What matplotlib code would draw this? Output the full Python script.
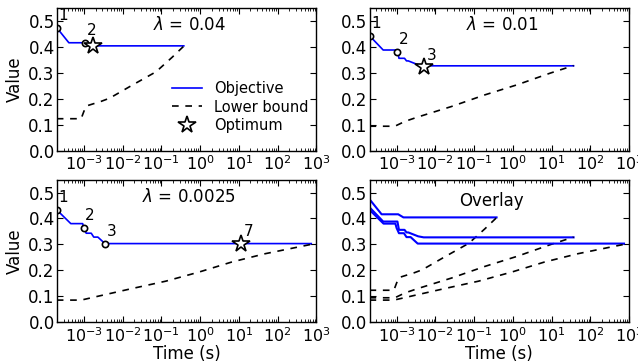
import matplotlib
matplotlib.use("Agg")
import matplotlib.pyplot as plt
from matplotlib.ticker import LogLocator

# ---------------- data ----------------
# lambda = 0.04
obj_t_a = [2e-4, 4.1e-4, 1.1e-3, 1.5e-3, 0.38]
obj_v_a = [0.474, 0.416, 0.416, 0.404, 0.404]
lb_t_a = [2e-4, 8.5e-4, 1.0e-3, 1.15e-3, 2.8e-3, 4.6e-3, 0.018, 0.073, 0.19, 0.38]
lb_v_a = [0.123, 0.123, 0.151, 0.172, 0.19, 0.202, 0.253, 0.304, 0.36, 0.403]
pts_t_a = [2e-4, 1.1e-3]
pts_v_a = [0.474, 0.416]
pts_lab_a = ["1", "2"]
opt_t_a, opt_v_a, opt_lab_a = 1.7e-3, 0.404, ""

# lambda = 0.01
obj_t_b = [2e-4, 4.5e-4, 1.05e-3, 1.15e-3, 1.6e-3, 1.8e-3, 2.0e-3, 3.6e-3, 5.0e-3, 37]
obj_v_b = [0.443, 0.388, 0.388, 0.356, 0.356, 0.346, 0.346, 0.331, 0.327, 0.327]
lb_t_b = [2e-4, 9e-4, 1.66e-3, 3.6e-3, 0.026, 0.19, 1.3, 9.3, 37]
lb_v_b = [0.094, 0.094, 0.113, 0.13, 0.17, 0.215, 0.254, 0.299, 0.328]
pts_t_b = [2e-4, 1.05e-3]
pts_v_b = [0.443, 0.38]
pts_lab_b = ["1", "2"]
opt_t_b, opt_v_b, opt_lab_b = 5.2e-3, 0.322, "3"

# lambda = 0.0025
obj_t_c = [2e-4, 4.6e-4, 9.3e-4, 1.0e-3, 1.15e-3, 1.55e-3, 1.8e-3, 2.3e-3, 3.5e-3, 740]
obj_v_c = [0.433, 0.38, 0.38, 0.363, 0.343, 0.343, 0.328, 0.328, 0.303, 0.303]
lb_t_c = [2e-4, 8.5e-4, 2.5e-3, 0.018, 0.13, 0.93, 6.6, 48, 740]
lb_v_c = [0.085, 0.085, 0.101, 0.13, 0.158, 0.193, 0.232, 0.264, 0.30]
pts_t_c = [2e-4, 1.0e-3, 3.5e-3]
pts_v_c = [0.433, 0.363, 0.303]
pts_lab_c = ["1", "2", "3"]
opt_t_c, opt_v_c, opt_lab_c = 11.5, 0.303, "7"

titles = [r"$\lambda$ = 0.04", r"$\lambda$ = 0.01", r"$\lambda$ = 0.0025", "Overlay"]
yticks = [0.0, 0.1, 0.2, 0.3, 0.4, 0.5]
xticks = [1e-3, 1e-2, 1e-1, 1e0, 1e1, 1e2, 1e3]

# ---------------- style ----------------
plt.rcParams.update({
    "font.family": "DejaVu Sans",
    "font.size": 12,
    "mathtext.fontset": "dejavusans",
    "xtick.direction": "in",
    "ytick.direction": "in",
    "xtick.top": True,
    "ytick.right": True,
    "xtick.major.size": 4,
    "ytick.major.size": 4,
    "xtick.minor.size": 2,
    "xtick.major.pad": 3,
    "ytick.major.pad": 1.5,
    "xtick.labelsize": 11.5,
    "ytick.labelsize": 12,
    "axes.linewidth": 1.0,
})

fig, axes = plt.subplots(2, 2, figsize=(6.38, 3.64), dpi=100)
fig.subplots_adjust(left=0.089, right=0.986, top=0.978, bottom=0.115,
                    wspace=0.205, hspace=0.203)

blue = "#0000ff"
datasets = [
    (obj_t_a, obj_v_a, lb_t_a, lb_v_a, pts_t_a, pts_v_a, pts_lab_a, opt_t_a, opt_v_a, opt_lab_a),
    (obj_t_b, obj_v_b, lb_t_b, lb_v_b, pts_t_b, pts_v_b, pts_lab_b, opt_t_b, opt_v_b, opt_lab_b),
    (obj_t_c, obj_v_c, lb_t_c, lb_v_c, pts_t_c, pts_v_c, pts_lab_c, opt_t_c, opt_v_c, opt_lab_c),
]

def setup(ax):
    ax.set_xscale("log")
    ax.set_xlim(2e-4, 1e3)
    ax.set_ylim(0, 0.55)
    ax.set_yticks(yticks)
    ax.set_xticks(xticks)
    ax.xaxis.set_minor_locator(LogLocator(base=10, subs=range(2, 10), numticks=20))

for i, ax in enumerate(axes.flat[:3]):
    ot, ov, lt, lv, pt, pv, pl, st, sv, sl = datasets[i]
    ax.plot(ot, ov, color=blue, lw=1.2, label="Objective")
    ax.plot(lt, lv, color="black", ls="--", lw=1.2, dashes=(4, 4), label="Lower bound")
    ax.plot(pt, pv, ls="none", marker="o", ms=4.5, mfc="white", mec="black", mew=1.2)
    for x, y, s in zip(pt, pv, pl):
        ax.annotate(s, (x, y), xytext=(1, 3.5), textcoords="offset points",
                    ha="left", va="bottom", fontsize=11)
    ax.plot([st], [sv], ls="none", marker="*", ms=13, mfc="white", mec="black",
            mew=1.2, label="Optimum")
    if sl:
        ax.annotate(sl, (st, sv), xytext=(2, 3), textcoords="offset points",
                    ha="left", va="bottom", fontsize=11)
    setup(ax)
    ax.text(0.51, 0.88, titles[i], transform=ax.transAxes, ha="center", va="center",
            fontsize=12)

axes[0, 0].legend(loc="lower right", bbox_to_anchor=(1.02, 0.03), frameon=False,
                  numpoints=1, fontsize=10.5, handlelength=2.1, handletextpad=0.8,
                  labelspacing=0.25)

ax = axes[1, 1]
for ds in datasets:
    ot, ov, lt, lv = ds[0], ds[1], ds[2], ds[3]
    ax.plot(ot, ov, color=blue, lw=1.5)
    ax.plot(lt, lv, color="black", ls="--", lw=1.2, dashes=(4, 4))
setup(ax)
ax.text(0.47, 0.85, titles[3], transform=ax.transAxes, ha="center", va="center",
        fontsize=12)

axes[0, 0].set_ylabel("Value", labelpad=3)
axes[1, 0].set_ylabel("Value", labelpad=3)
axes[1, 0].set_xlabel("Time (s)", labelpad=0)
axes[1, 1].set_xlabel("Time (s)", labelpad=0)

fig.savefig("out.png", dpi=100)
